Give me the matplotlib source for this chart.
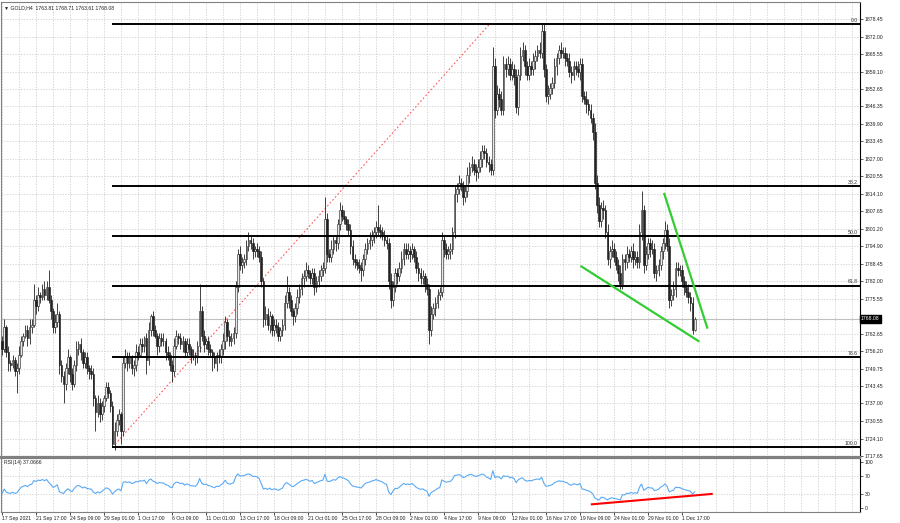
import numpy as np
import matplotlib.pyplot as plt

plt.rcParams['font.family'] = ['Liberation Sans', 'DejaVu Sans']

# GOLD H4 closes, 17 Sep 2021 01:00 .. 2 Dec 2021 17:00
closes = [
    1757, 1765, 1756, 1752, 1751, 1753, 1749, 1750, 1755, 1760,
    1762, 1764, 1761, 1765, 1766, 1775, 1773, 1777, 1776, 1779,
    1777, 1780, 1775, 1771, 1765, 1767, 1770, 1751, 1747, 1744,
    1750, 1754, 1748, 1744, 1751, 1757, 1759, 1756, 1752, 1754,
    1750, 1749, 1748, 1739, 1734, 1737, 1733, 1736, 1739, 1743,
    1741, 1736, 1722, 1727, 1731, 1733, 1727, 1752, 1754, 1752,
    1754, 1750, 1751, 1756, 1755, 1759, 1758, 1761, 1753, 1764,
    1769, 1764, 1762, 1758, 1761, 1760, 1760, 1756, 1755, 1751,
    1749, 1758, 1762, 1761, 1759, 1760, 1756, 1759, 1757, 1755,
    1755, 1754, 1758, 1771, 1762, 1759, 1760, 1757, 1756, 1754,
    1752, 1755, 1754, 1757, 1760, 1767, 1762, 1760, 1761, 1763,
    1780, 1792, 1788, 1789, 1790, 1795, 1797, 1796, 1793, 1794,
    1793, 1791, 1782, 1768, 1770, 1766, 1769, 1764, 1766, 1765,
    1762, 1764, 1766, 1774, 1778, 1775, 1771, 1769, 1772, 1776,
    1779, 1783, 1784, 1786, 1785, 1783, 1785, 1780, 1782, 1784,
    1786, 1787, 1805, 1792, 1791, 1794, 1797, 1796, 1803, 1808,
    1806, 1805, 1803, 1801, 1795, 1790, 1789, 1788, 1787, 1786,
    1790, 1794, 1796, 1797, 1799, 1800, 1802, 1801, 1800, 1799,
    1797, 1796, 1782, 1775, 1780, 1785, 1784, 1787, 1790, 1794,
    1792, 1793, 1792, 1794, 1791, 1787, 1785, 1783, 1784, 1781,
    1779, 1764, 1770, 1772, 1774, 1777, 1778, 1797, 1794, 1792,
    1793, 1794, 1800, 1814, 1816, 1818, 1817, 1813, 1815, 1821,
    1824, 1825, 1823, 1822, 1824, 1827, 1830, 1829, 1826, 1825,
    1823, 1861, 1845, 1851, 1849, 1845, 1862, 1860, 1862, 1858,
    1860, 1857, 1846, 1858, 1865, 1867, 1861, 1858, 1861, 1860,
    1863, 1865, 1867, 1866, 1874, 1860, 1850, 1851, 1853, 1855,
    1861, 1864, 1867, 1866, 1866, 1864, 1863, 1859, 1858, 1861,
    1860, 1859, 1862, 1850, 1849, 1847, 1845, 1842, 1837, 1818,
    1810, 1804, 1809, 1808, 1800, 1790, 1793, 1794, 1791, 1788,
    1785, 1781, 1790, 1789, 1792, 1791, 1793, 1790, 1791, 1789,
    1800, 1808, 1788, 1792, 1796, 1794, 1794, 1785, 1786, 1788,
    1793, 1796, 1801, 1795, 1775, 1777, 1779, 1787, 1786, 1786,
    1782, 1780, 1778, 1776, 1774, 1764, 1768.08,
]
first_open = 1760

# upper / lower shadow lengths in dollars
wick_up = [
    2, 3, 1, 2, 1, 2, 1, 2, 3, 2,
    1, 2, 2, 3, 2, 6, 2, 3, 1, 2,
    3, 2, 6, 2, 1, 3, 4, 1, 2, 2,
    2, 3, 1, 2, 2, 3, 1, 2, 1, 2,
    2, 1, 2, 2, 1, 3, 2, 2, 1, 2,
    2, 1, 2, 3, 2, 2, 1, 2, 3, 2,
    2, 1, 2, 3, 2, 2, 2, 1, 2, 3,
    1, 2, 2, 1, 2, 2, 3, 1, 2, 1,
    2, 3, 2, 1, 2, 2, 1, 2, 2, 1,
    2, 1, 2, 10, 2, 2, 1, 2, 2, 1,
    2, 1, 2, 2, 3, 2, 1, 2, 2, 2,
    2, 2, 3, 2, 2, 2, 3, 2, 2, 1,
    2, 2, 2, 1, 3, 2, 2, 1, 2, 2,
    2, 1, 2, 3, 6, 2, 2, 1, 2, 3,
    2, 2, 2, 3, 2, 1, 2, 2, 2, 2,
    2, 2, 8, 2, 2, 3, 2, 2, 2, 3,
    2, 2, 1, 2, 2, 2, 2, 1, 2, 2,
    2, 2, 2, 3, 2, 2, 2, 8, 2, 2,
    2, 2, 2, 3, 2, 2, 2, 2, 3, 2,
    2, 3, 2, 2, 1, 2, 2, 2, 2, 1,
    2, 2, 3, 2, 2, 2, 2, 3, 2, 2,
    2, 2, 2, 3, 2, 3, 2, 2, 2, 3,
    2, 3, 2, 2, 3, 3, 2, 2, 2, 2,
    2, 7, 3, 3, 2, 3, 3, 2, 3, 2,
    3, 2, 3, 2, 3, 3, 2, 2, 3, 2,
    3, 2, 2, 3, 2.6, 3, 2, 3, 2, 2,
    3, 2, 2, 3, 2, 2, 2, 3, 2, 2,
    2, 3, 2, 2, 2, 3, 2, 2, 2, 3,
    3, 3, 2, 3, 2, 3, 2, 3, 2, 2,
    2, 3, 2, 2, 3, 2, 2, 3, 2, 2,
    3, 7, 2, 3, 2, 2, 3, 2, 2, 2,
    2, 2, 3, 2, 3, 2, 3, 2, 2, 2,
    2, 2, 2, 3, 2, 2, 0.6,
]
wick_dn = [
    2, 1, 2, 3, 2, 1, 2, 8, 2, 1,
    2, 1, 3, 2, 2, 1, 3, 2, 2, 1,
    2, 2, 1, 3, 2, 2, 2, 3, 2, 7,
    2, 2, 3, 2, 1, 2, 2, 3, 2, 2,
    2, 3, 2, 3, 7, 2, 3, 2, 2, 1,
    2, 2, 1, 2, 2, 2, 5, 2, 2, 3,
    2, 2, 3, 2, 2, 1, 2, 2, 5, 2,
    2, 2, 1, 3, 2, 2, 2, 3, 2, 2,
    4, 2, 1, 2, 2, 3, 2, 2, 2, 3,
    2, 3, 2, 2, 2, 3, 2, 2, 2, 5,
    2, 3, 2, 2, 2, 3, 2, 2, 2, 2,
    2, 2, 2, 3, 2, 2, 2, 2, 3, 2,
    2, 2, 2, 3, 2, 2, 3, 2, 2, 2,
    2, 2, 2, 2, 2, 3, 2, 3, 2, 2,
    2, 2, 3, 2, 2, 2, 2, 3, 2, 2,
    2, 2, 2, 3, 2, 2, 2, 3, 2, 2,
    2, 2, 2, 2, 3, 2, 2, 2, 2, 4,
    2, 2, 2, 2, 2, 3, 2, 2, 2, 2,
    2, 2, 3, 3, 2, 2, 3, 2, 2, 2,
    2, 2, 3, 2, 2, 2, 3, 2, 2, 3,
    2, 5, 2, 2, 3, 2, 2, 2, 3, 2,
    2, 3, 2, 2, 3, 2, 2, 3, 2, 2,
    3, 2, 2, 3, 2, 2, 3, 2, 2, 3,
    2, 2, 3, 2, 3, 2, 2, 3, 2, 2,
    2, 3, 2, 3, 2, 2, 3, 2, 2, 2,
    2, 3, 2, 2, 2, 3, 2, 3, 2, 2,
    2, 3, 2, 2, 2, 3, 2, 2, 3, 2,
    2, 2, 3, 2, 2, 3, 2, 2, 3, 2,
    3, 2, 2, 3, 2, 2, 3, 2, 2, 2,
    3, 2, 2, 3, 2, 2, 2, 3, 2, 2,
    2, 3, 3, 2, 2, 3, 2, 2, 3, 2,
    2, 3, 2, 2, 3, 2, 2, 3, 2, 2,
    2, 3, 2, 2, 3, 1.5, 0.2,
]

price_ticks = ["1878.45", "1872.00", "1865.55", "1859.10", "1852.65", "1846.35",
               "1839.90", "1833.45", "1827.00", "1820.55", "1814.10", "1807.65",
               "1801.20", "1794.90", "1788.45", "1782.00", "1775.55", "1762.65",
               "1756.20", "1749.75", "1743.45", "1737.00", "1730.55", "1724.10",
               "1717.65"]
date_labels = ["17 Sep 2021", "21 Sep 17:00", "24 Sep 09:00", "29 Sep 01:00", "1 Oct 17:00",
               "6 Oct 09:00", "11 Oct 01:00", "13 Oct 17:00", "18 Oct 09:00", "21 Oct 01:00",
               "25 Oct 17:00", "28 Oct 09:00", "2 Nov 01:00", "4 Nov 17:00", "9 Nov 09:00",
               "12 Nov 01:00", "16 Nov 17:00", "19 Nov 09:00", "24 Nov 01:00", "29 Nov 01:00",
               "1 Dec 17:00"]
bars_per_label = 16

# fibonacci retracement drawn from the 29 Sep low to the 16 Nov high
fib_low, fib_high = 1720.9, 1876.6
fib_low_bar, fib_high_bar = 52, 229.5
fib_levels = [0.0, 38.2, 50.0, 61.8, 78.6, 100.0]

# falling wedge lines (bar index, price) and RSI divergence line (bar index, rsi)
wedge_upper = ([311.7, 331.9], [1814.1, 1764.9])
wedge_lower = ([272.7, 327.7], [1787.4, 1760.0])
rsi_line = ([277.6, 334.0], [8.6, 31.0])
rsi_seed_gain, rsi_seed_loss = 1.2, 2.4

header = "\u25bc GOLD,H4  1763.81 1768.71 1763.61 1768.08"
rsi_header = "RSI(14) 37.0666"
last_price = 1768.08

# ---- build candles
c = np.array(closes, dtype=float)
o = np.r_[first_open, c[:-1]]
hi = np.maximum(o, c) + np.array(wick_up)
lo = np.minimum(o, c) - np.array(wick_dn)
x = np.arange(len(c))

# RSI(14), Wilder smoothing
d = np.diff(np.r_[first_open, c])
ag, al = rsi_seed_gain, rsi_seed_loss
rsi = []
for v in d:
    ag = (ag * 13 + max(v, 0)) / 14
    al = (al * 13 + max(-v, 0)) / 14
    rsi.append(100 - 100 / (1 + ag / al))
rsi = np.array(rsi)

fs = 3.7
W, H = 900, 523
fig = plt.figure(figsize=(W / 100, H / 100), dpi=100)
ax = fig.add_axes([1 / W, 66 / H, 859 / W, 455 / H])
axr = fig.add_axes([1 / W, 11 / H, 859 / W, 54 / H])

xmin, xmax = -0.47, 403.8
grid_kw = dict(color='#c8c8c8', lw=0.5, ls=(0, (2, 2)), zorder=0)

# main panel
ax.set_xlim(xmin, xmax)
ax.set_ylim(1717.3, 1884.7)
tick_vals = [float(t) for t in price_ticks]
ax.yaxis.tick_right()
ax.set_yticks(tick_vals)
ax.set_yticklabels(price_ticks, fontsize=fs)
ax.tick_params(axis='y', length=2, width=0.5, pad=1.5, colors='#202020')
ax.set_xticks([])
for v in tick_vals:
    ax.axhline(v, **grid_kw)
for gx in range(0, 404, 8):
    ax.axvline(gx, **grid_kw)
    axr.axvline(gx, **grid_kw)

ax.axhline(last_price, color='#c0c0c0', lw=0.8, zorder=1)

up = c >= o
ax.vlines(x, lo, hi, color='#222222', lw=0.6, zorder=3)
ax.bar(x[up], (c - o)[up], bottom=o[up], width=0.8, color='#e8e8e8', edgecolor='#333333', lw=0.45, zorder=4)
ax.bar(x[~up], (o - c)[~up], bottom=c[~up], width=0.8, color='#222222', edgecolor='#222222', lw=0.45, zorder=4)

# fib
ax.plot([fib_low_bar, fib_high_bar], [fib_low, fib_high], color='#ff5a5a', lw=0.8, ls=(0, (1.5, 2)), zorder=2)
for lv in fib_levels:
    p = fib_high - lv / 100 * (fib_high - fib_low)
    ax.hlines(p, fib_low_bar, xmax, color='black', lw=1.4, zorder=5)
    ax.text(xmax - 1, p + 0.4, f"{lv:.1f}", fontsize=fs, ha='right', va='bottom', color='#303030', zorder=6)

ax.plot(*wedge_upper, color='#33cc33', lw=1.6, zorder=6)
ax.plot(*wedge_lower, color='#33cc33', lw=1.6, zorder=6)

ax.text(1.001, last_price, f"{last_price:.2f}", transform=ax.get_yaxis_transform(), fontsize=fs,
        color='white', va='center', ha='left', clip_on=False, zorder=10,
        bbox=dict(boxstyle='square,pad=0.25', fc='black', ec='black'))
ax.text(0.003, 0.993, header, transform=ax.transAxes, fontsize=fs, va='top', ha='left', color='#202020')

for sp in ax.spines.values():
    sp.set_color('#808080')
    sp.set_linewidth(0.8)
ax.spines['right'].set_color('black')
ax.spines['bottom'].set_linewidth(1.6)

# RSI panel
axr.set_xlim(xmin, xmax)
axr.set_ylim(-8, 108.6)
axr.plot(x, rsi, color='#5aaaf5', lw=0.8, zorder=3)
axr.plot(*rsi_line, color='red', lw=1.5, zorder=4)
for lv in (30, 70):
    axr.axhline(lv, **grid_kw)
axr.yaxis.tick_right()
axr.set_yticks([0, 30, 70, 100])
axr.set_yticklabels(["0", "30", "70", "100"], fontsize=fs)
axr.tick_params(axis='y', length=2, width=0.5, pad=1.5, colors='#202020')
axr.set_xticks(np.arange(len(date_labels)) * bars_per_label)
axr.set_xticklabels([])
axr.tick_params(axis='x', length=2, width=0.5, direction='out')
for k, lbl in enumerate(date_labels):
    axr.text(k * bars_per_label, -0.08, lbl, transform=axr.get_xaxis_transform(),
             fontsize=fs, ha='left', va='top', color='#202020')
axr.text(0.003, 0.96, rsi_header, transform=axr.transAxes, fontsize=fs, va='top', ha='left', color='#202020')
for sp in axr.spines.values():
    sp.set_color('#808080')
    sp.set_linewidth(0.8)
axr.spines['right'].set_color('black')
axr.spines['top'].set_linewidth(1.6)

fig.savefig('out.png', dpi=100)
